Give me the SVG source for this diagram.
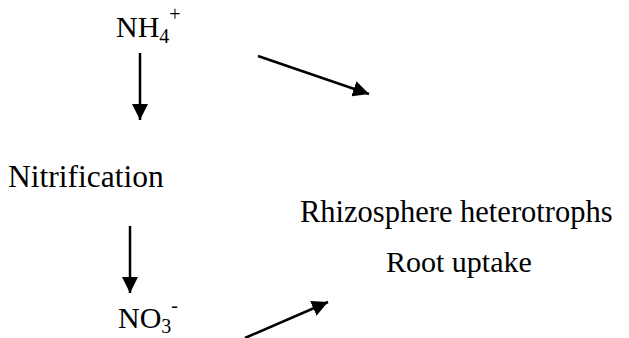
<svg xmlns="http://www.w3.org/2000/svg" width="629" height="338" viewBox="0 0 629 338">
  <style>
    .lbl { font-family: "Liberation Serif", "Times New Roman", serif; font-size: 30px; fill: #000; }
    .sub { font-size: 20px; }
    .conn { stroke: #000; stroke-width: 2.5; fill: none; marker-end: url(#head); }
  </style>
  <defs>
    <marker id="head" markerUnits="userSpaceOnUse" markerWidth="16" markerHeight="16" refX="16" refY="8" orient="auto" viewBox="0 0 16 16">
      <path d="M0,0 L16,8 L0,16 Z" fill="#000"/>
    </marker>
  </defs>

  <!-- nodes -->
  <g id="ammonium">
    <text class="lbl" x="116" y="37">NH<tspan class="sub" dy="6">4</tspan><tspan class="sub" dy="-22">+</tspan></text>
  </g>
  <g id="nitrification">
    <text class="lbl" x="8" y="187" style="font-size:31.5px">Nitrification</text>
  </g>
  <g id="nitrate">
    <text class="lbl" x="118" y="328">NO<tspan class="sub" dy="5">3</tspan><tspan class="sub" dy="-21">-</tspan></text>
  </g>
  <g id="heterotrophs">
    <text class="lbl" x="300" y="222" style="font-size:30.5px">Rhizosphere heterotrophs</text>
  </g>
  <g id="root-uptake">
    <text class="lbl" x="386" y="272">Root uptake</text>
  </g>

  <!-- connectors -->
  <g id="connectors">
    <line class="conn" x1="140" y1="53" x2="140" y2="120"/>
    <line class="conn" x1="130" y1="226" x2="130" y2="293"/>
    <line class="conn" x1="258" y1="56" x2="369" y2="94"/>
    <line class="conn" x1="245" y1="338" x2="328" y2="302"/>
  </g>
</svg>
